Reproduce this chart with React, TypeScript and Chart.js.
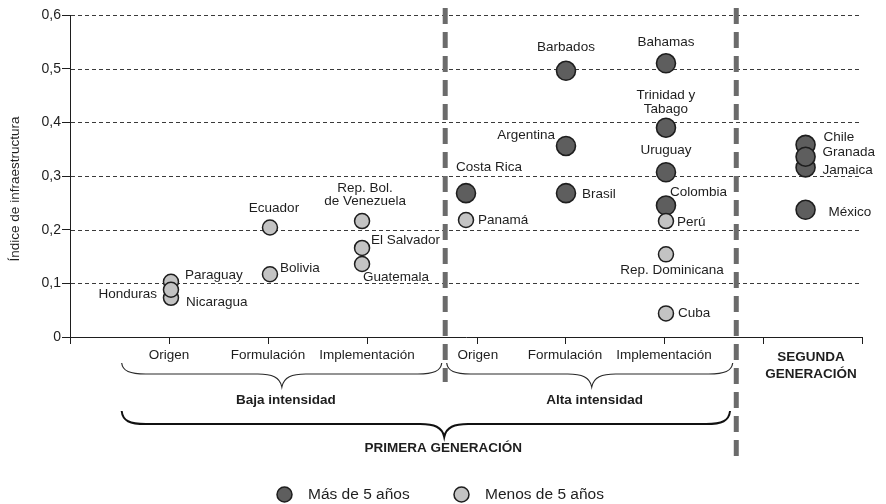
import React, { useEffect, useRef } from 'react';
import { Chart, registerables } from 'chart.js';

Chart.register(...registerables);

// ---------- data ----------
// x position of each stage (Baja: Origen, Formulación, Implementación; Alta: Origen, Formulación, Implementación; Segunda generación)
const GROUP_X = [1.02, 2.02, 2.95, 4.0, 5.01, 6.02, 7.43];
const X_TICK_VALUES = [0, 1, 2, 3, 4.12, 5, 6, 7, 8];
const X_TICK_LABELS = ['', 'Origen', 'Formulación', 'Implementación', 'Origen', 'Formulación', 'Implementación', '', ''];
const Y_TICK_VALUES = [0, 0.1, 0.2, 0.3, 0.4, 0.5, 0.6];

// Menos de 5 años (light)
const MENOS_NAMES = ['Paraguay', 'Nicaragua', 'Honduras', 'Ecuador', 'Bolivia', 'Rep. Bol.\nde Venezuela', 'Guatemala', 'El Salvador', 'Panamá', 'Perú', 'Rep. Dominicana', 'Cuba'];
const MENOS_GROUP = [0, 0, 0, 1, 1, 2, 2, 2, 3, 5, 5, 5];
const MENOS_VALUES = [0.103, 0.073, 0.088, 0.204, 0.117, 0.216, 0.136, 0.166, 0.218, 0.216, 0.154, 0.044];

// Más de 5 años (dark)
const MAS_NAMES = ['Costa Rica', 'Barbados', 'Argentina', 'Brasil', 'Bahamas', 'Trinidad y\nTabago', 'Uruguay', 'Colombia', 'Chile', 'Jamaica', 'Granada', 'México'];
const MAS_GROUP = [3, 4, 4, 4, 5, 5, 5, 5, 6, 6, 6, 6];
const MAS_VALUES = [0.268, 0.496, 0.356, 0.268, 0.51, 0.39, 0.307, 0.245, 0.358, 0.316, 0.336, 0.237];

// ---------- layout / style ----------
const FONT = '"Liberation Sans", Arial, Helvetica, sans-serif';
const TEXT = '#1e1e1e';
const DARK_FILL = '#5e5e5e';
const LIGHT_FILL = '#c3c3c3';
const OUTLINE = '#1e1e1e';

// label placement relative to point: [dx, dy, align]
const LABEL_POS: Record<string, [number, number, CanvasTextAlign]> = {
  'Paraguay': [14, -6, 'left'],
  'Honduras': [-14, 5, 'right'],
  'Nicaragua': [15, 4, 'left'],
  'Ecuador': [4, -19, 'center'],
  'Bolivia': [10, -6, 'left'],
  'Rep. Bol.\nde Venezuela': [3, -33, 'center'],
  'Guatemala': [1, 13, 'left'],
  'El Salvador': [9, -8, 'left'],
  'Panamá': [12, 0, 'left'],
  'Perú': [11, 1, 'left'],
  'Rep. Dominicana': [6, 16, 'center'],
  'Cuba': [12, 0, 'left'],
  'Costa Rica': [-10, -26, 'left'],
  'Barbados': [0, -23.5, 'center'],
  'Argentina': [-11, -11, 'right'],
  'Brasil': [16, 1, 'left'],
  'Bahamas': [0, -21, 'center'],
  'Trinidad y\nTabago': [0, -32, 'center'],
  'Uruguay': [0, -22, 'center'],
  'Colombia': [4, -13, 'left'],
  'Chile': [18, -8, 'left'],
  'Jamaica': [17, 3, 'left'],
  'Granada': [17, -4, 'left'],
  'México': [23, 2, 'left'],
};

// separators (x value, bottom pixel)
const SEPARATORS: [number, number][] = [[3.79, 382], [6.73, 457]];

function brace(ctx: CanvasRenderingContext2D, x1: number, x2: number, xTip: number, yTop: number, yFlat: number, yTip: number) {
  ctx.beginPath();
  ctx.moveTo(x1, yTop);
  ctx.bezierCurveTo(x1 + 1, yFlat - 3, x1 + 8, yFlat, x1 + 24, yFlat);
  ctx.lineTo(xTip - 24, yFlat);
  ctx.bezierCurveTo(xTip - 10, yFlat, xTip - 2, yFlat + 3, xTip, yTip);
  ctx.bezierCurveTo(xTip + 2, yFlat + 3, xTip + 10, yFlat, xTip + 24, yFlat);
  ctx.lineTo(x2 - 24, yFlat);
  ctx.bezierCurveTo(x2 - 8, yFlat, x2 - 1, yFlat - 3, x2, yTop);
  ctx.stroke();
}

const decor = {
  id: 'decor',
  beforeDatasetsDraw(chart: any) {
    const { ctx, chartArea, scales } = chart;
    const y = scales.y;
    ctx.save();
    ctx.strokeStyle = '#3a3a3a';
    ctx.lineWidth = 1;
    ctx.setLineDash([4, 3]);
    for (const v of Y_TICK_VALUES) {
      if (v === 0) continue;
      const py = Math.round(y.getPixelForValue(v)) + 0.5;
      ctx.beginPath();
      ctx.moveTo(chartArea.left + 1, py);
      ctx.lineTo(chartArea.right, py);
      ctx.stroke();
    }
    ctx.restore();
  },
  afterDraw(chart: any) {
    const { ctx, chartArea, scales } = chart;
    const x = scales.x;
    const px = (v: number) => x.getPixelForValue(v);
    ctx.save();

    // thick vertical separators
    ctx.strokeStyle = '#6b6b6b';
    ctx.lineWidth = 5;
    ctx.setLineDash([16, 8]);
    for (const [v, bottom] of SEPARATORS) {
      const sx = px(v);
      ctx.beginPath();
      ctx.moveTo(sx, chartArea.top - 7);
      ctx.lineTo(sx, bottom);
      ctx.stroke();
    }
    ctx.setLineDash([]);

    // braces
    ctx.strokeStyle = '#2a2a2a';
    ctx.lineWidth = 1.2;
    brace(ctx, px(0.522), px(3.755), px(2.14), 363, 374, 387);
    brace(ctx, px(3.805), px(6.694), px(5.27), 363, 374, 387);
    ctx.strokeStyle = '#111';
    ctx.lineWidth = 2;
    brace(ctx, px(0.522), px(6.667), px(3.78), 411, 424, 437);

    // group labels
    ctx.fillStyle = TEXT;
    ctx.textBaseline = 'middle';
    ctx.textAlign = 'center';
    ctx.font = `bold 13.5px ${FONT}`;
    ctx.fillText('Baja intensidad', px(2.18), 400);
    ctx.fillText('Alta intensidad', px(5.30), 400);
    ctx.fillText('PRIMERA GENERACIÓN', px(3.77), 448);
    ctx.fillText('SEGUNDA', px(7.485), 357);
    ctx.fillText('GENERACIÓN', px(7.485), 374);

    // y-axis title
    ctx.font = `13.5px ${FONT}`;
    ctx.save();
    ctx.translate(15, 189);
    ctx.rotate(-Math.PI / 2);
    ctx.fillText('Índice de infraestructura', 0, 0);
    ctx.restore();

    // point labels
    ctx.font = `13.5px ${FONT}`;
    chart.data.datasets.forEach((ds: any, di: number) => {
      const meta = chart.getDatasetMeta(di);
      ds.names.forEach((name: string, i: number) => {
        const el = meta.data[i];
        const pos = LABEL_POS[name] || [12, 0, 'left'];
        ctx.textAlign = pos[2];
        const lines = name.split('\n');
        lines.forEach((ln, k) => {
          ctx.fillText(ln, el.x + pos[0], el.y + pos[1] + k * 13.5);
        });
      });
    });

    // legend
    const legendY = 494.5;
    const items: [string, string, number][] = [
      ['Más de 5 años', DARK_FILL, 284.5],
      ['Menos de 5 años', LIGHT_FILL, 461.5],
    ];
    ctx.font = `15.5px ${FONT}`;
    ctx.textAlign = 'left';
    for (const [label, fill, cx] of items) {
      ctx.beginPath();
      ctx.arc(cx, legendY, 7.5, 0, Math.PI * 2);
      ctx.fillStyle = fill;
      ctx.fill();
      ctx.lineWidth = 1.5;
      ctx.strokeStyle = OUTLINE;
      ctx.stroke();
      ctx.fillStyle = TEXT;
      ctx.fillText(label, cx + 23.5, legendY);
    }
    ctx.restore();
  },
};

function buildPoints(groups: number[], values: number[]) {
  return values.map((v, i) => ({ x: GROUP_X[groups[i]], y: v }));
}

export default function App() {
  const ref = useRef<HTMLCanvasElement>(null);
  useEffect(() => {
    Chart.defaults.font.family = FONT;
    const chart = new Chart(ref.current!, {
      type: 'scatter',
      data: {
        datasets: [
          {
            label: 'Menos de 5 años',
            names: MENOS_NAMES,
            data: buildPoints(MENOS_GROUP, MENOS_VALUES),
            backgroundColor: LIGHT_FILL,
            borderColor: OUTLINE,
            borderWidth: 1.5,
            pointRadius: 7.5,
            pointHoverRadius: 7.5,
          } as any,
          {
            label: 'Más de 5 años',
            names: MAS_NAMES,
            data: buildPoints(MAS_GROUP, MAS_VALUES),
            backgroundColor: DARK_FILL,
            borderColor: OUTLINE,
            borderWidth: 1.6,
            pointRadius: 9.5,
            pointHoverRadius: 9.5,
          } as any,
        ],
      },
      options: {
        responsive: false,
        animation: false,
        events: [],
        devicePixelRatio: 1,
        layout: { padding: { top: 15, right: 24, bottom: 137, left: 0 } },
        plugins: { legend: { display: false }, tooltip: { enabled: false } },
        scales: {
          x: {
            type: 'linear',
            min: 0,
            max: 8,
            afterBuildTicks: (s: any) => {
              s.ticks = X_TICK_VALUES.map((v) => ({ value: v }));
            },
            afterFit: (s: any) => {
              s.height = 30;
            },
            ticks: {
              autoSkip: false,
              maxRotation: 0,
              padding: 3,
              color: TEXT,
              font: { family: FONT, size: 13.5 },
              callback: (_v: any, i: number) => X_TICK_LABELS[i] ?? '',
            },
            grid: { drawOnChartArea: false, drawTicks: true, tickLength: 7, color: TEXT, tickColor: TEXT },
            border: { display: true, color: TEXT, width: 1 },
          },
          y: {
            min: 0,
            max: 0.6,
            afterBuildTicks: (s: any) => {
              s.ticks = Y_TICK_VALUES.map((v) => ({ value: v }));
            },
            afterFit: (s: any) => {
              s.width = 70;
            },
            ticks: {
              padding: 1,
              color: TEXT,
              font: { family: FONT, size: 14 },
              callback: (v: any) => (v === 0 ? '0' : Number(v).toFixed(1).replace('.', ',')),
            },
            grid: { drawOnChartArea: false, drawTicks: true, tickLength: 8, color: TEXT, tickColor: TEXT },
            border: { display: true, color: TEXT, width: 1 },
          },
        },
      },
      plugins: [decor],
    } as any);
    return () => chart.destroy();
  }, []);
  return (
    <div style={{ position: 'fixed', left: 0, top: 0, width: 886, height: 504, background: '#fff' }}>
      <canvas ref={ref} width={886} height={504} style={{ width: 886, height: 504, display: 'block' }} />
    </div>
  );
}
